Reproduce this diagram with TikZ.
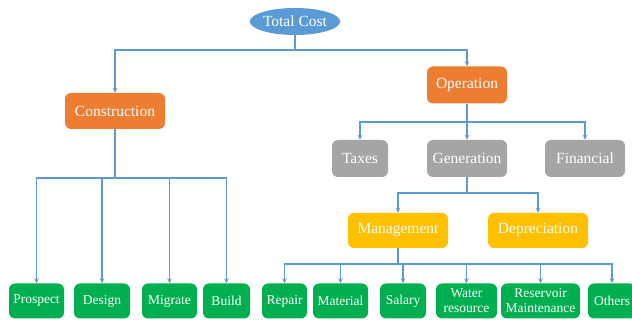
\documentclass[tikz,border=0pt]{standalone}
\usepackage{fontspec}
\newfontfamily\diagfont{Liberation Serif}
\usepackage{tikz}
\usetikzlibrary{arrows.meta}
\usetikzlibrary{shapes.geometric}

\definecolor{costblue}{HTML}{5B9BD5}
\definecolor{costorange}{HTML}{ED7D31}
\definecolor{costgray}{HTML}{A5A5A5}
\definecolor{costgold}{HTML}{FFC000}
\definecolor{costgreen}{HTML}{00B050}

\tikzset{
	box/.style={rounded corners=6pt, text=white, inner sep=0pt, minimum height=36pt, align=center, font=\diagfont\fontsize{15.5}{16}\selectfont},
	topbox/.style={box, fill=costorange},
	midbox/.style={box, fill=costgray},
	subbox/.style={box, fill=costgold, minimum height=35pt},
	leafbox/.style={box, fill=costgreen, minimum height=35pt, font=\diagfont\fontsize{13.5}{15}\selectfont},
	link/.style={draw=costblue, line width=1.4pt, -{Stealth[length=5pt,width=4.5pt]}}
}

\begin{document}
\begin{tikzpicture}[x=1pt, y=-1pt]
		\useasboundingbox (0, 0) rectangle (632, 320);

		\node[ellipse, fill=costblue, text=white, minimum width=90pt, minimum height=27pt, inner sep=0pt, font=\diagfont\fontsize{15.5}{16}\selectfont] (total) at (295, 21.5) {Total Cost};

		\node[topbox, minimum width=100pt] (constr) at (115, 111) {Construction};
		\node[topbox, minimum width=80pt, minimum height=37pt] (oper) at (467, 85) {Operation};

		\node[midbox, minimum width=56pt, minimum height=37pt] (taxes) at (360, 158.5) {Taxes};
		\node[midbox, minimum width=80pt, minimum height=37pt] (gen) at (467, 158.5) {Generation};
		\node[midbox, minimum width=80pt, minimum height=37pt] (fin) at (585, 158.5) {Financial};

		\node[subbox, minimum width=100pt] (mgmt) at (398, 230.5) {Management};
		\node[subbox, minimum width=100pt] (depr) at (538, 230.5) {Depreciation};

		\node[leafbox, minimum width=55pt] (prospect) at (36.5, 301) {Prospect};
		\node[leafbox, minimum width=56pt] (design) at (102, 301) {Design};
		\node[leafbox, minimum width=55pt] (migrate) at (169.5, 301) {Migrate};
		\node[leafbox, minimum width=47pt] (build) at (226.5, 301) {Build};

		\node[leafbox, minimum width=45pt] (repair) at (284.5, 301) {Repair};
		\node[leafbox, minimum width=55pt] (material) at (340.5, 301) {Material};
		\node[leafbox, minimum width=46pt] (salary) at (403, 301) {Salary};
		\node[leafbox, minimum width=61pt] (water) at (466.5, 301) {Water\\resource};
		\node[leafbox, minimum width=79pt] (reservoir) at (540.5, 301) {Reservoir\\Maintenance};
		\node[leafbox, minimum width=48pt] (others) at (612, 301) {Others};

		\draw[link] (total.south) -- ++(0, 15) -| (constr.north);
		\draw[link] (total.south) -- ++(0, 15) -| (oper.north);

		\foreach \leaf in {prospect, design, migrate, build}
			\draw[link] (constr.south) -- ++(0, 49) -| (\leaf.north);

		\foreach \part in {taxes, gen, fin}
			\draw[link] (oper.south) -- ++(0, 18.5) -| (\part.north);

		\draw[link] (gen.south) -- ++(0, 16) -| (mgmt.north);
		\draw[link] (gen.south) -- ++(0, 16) -| (depr.north);

		\foreach \leaf in {repair, material, salary, water, reservoir, others}
			\draw[link] (mgmt.south) -- ++(0, 16) -| (\leaf.north);
	\end{tikzpicture}
\end{document}
